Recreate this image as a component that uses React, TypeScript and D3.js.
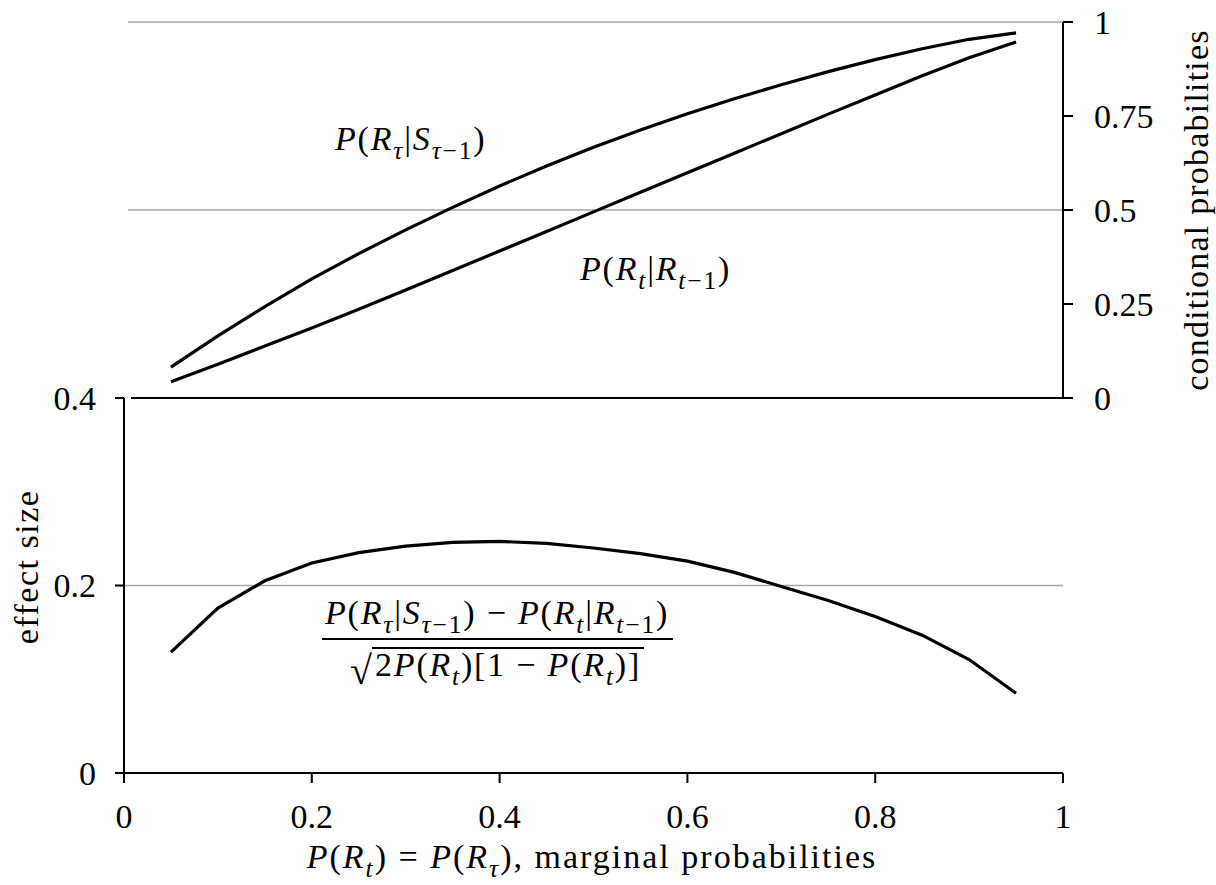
import React from 'react'
import * as d3 from 'd3'

// marginal probability P(R_t) = P(R_tau)
const marginal = [0.05, 0.1, 0.15, 0.2, 0.25, 0.3, 0.35, 0.4, 0.45, 0.5, 0.55, 0.6, 0.65, 0.7, 0.75, 0.8, 0.85, 0.9, 0.95]

// P(R_tau | S_tau-1)
const condSurvive = [0.082, 0.165, 0.243, 0.317, 0.384, 0.447, 0.507, 0.564, 0.617, 0.667, 0.713, 0.756, 0.796, 0.833, 0.868, 0.9, 0.929, 0.954, 0.971]

// P(R_t | R_t-1)
const condRecur = [0.043, 0.09, 0.138, 0.186, 0.236, 0.287, 0.339, 0.391, 0.443, 0.495, 0.547, 0.599, 0.651, 0.703, 0.755, 0.806, 0.857, 0.905, 0.947]

// effect size
const effectSize = [0.129, 0.176, 0.205, 0.224, 0.235, 0.242, 0.246, 0.247, 0.245, 0.24, 0.234, 0.226, 0.214, 0.199, 0.184, 0.167, 0.147, 0.121, 0.085]

const condTicks = [0, 0.25, 0.5, 0.75, 1]
const condTickLabels = ['0', '0.25', '0.5', '0.75', '1']
const condGrid = [0.5, 1]

const effectTicks = [0, 0.2, 0.4]
const effectTickLabels = ['0', '0.2', '0.4']
const effectGrid = [0.2]

const margTicks = [0, 0.2, 0.4, 0.6, 0.8, 1]
const margTickLabels = ['0', '0.2', '0.4', '0.6', '0.8', '1']

const FONT = '"Liberation Serif", "Times New Roman", serif'
const GRID = '#a6a6a6'

// a small piece of math: italic letters, upright digits and signs, subscripts
type Part = { t: string, i?: boolean, s?: boolean }

function mathSpans (parts: Part[], size: number) {
  let shift = 0
  const spans = parts.map((p, k) => {
    const target = p.s ? size * 0.26 : 0
    const dy = target - shift
    shift = target
    return (
      <tspan key={k} dy={dy} fontStyle={p.i ? 'italic' : 'normal'} fontSize={p.s ? size * 0.75 : size}>{p.t}</tspan>
    )
  })
  return { spans, shift }
}

function MathText ({ x, y, parts, size, anchor }: { x: number, y: number, parts: Part[], size: number, anchor?: string }) {
  const { spans } = mathSpans(parts, size)
  return (
    <text x={x} y={y} fontFamily={FONT} fontSize={size} letterSpacing={1.8} textAnchor={anchor || 'start'} fill="#000" style={{ whiteSpace: 'pre' }}>
      {spans}
    </text>
  )
}

const survivePart: Part[] = [
  { t: 'P', i: true }, { t: '(' }, { t: 'R', i: true }, { t: 'τ', i: true, s: true },
  { t: '|' }, { t: 'S', i: true }, { t: 'τ', i: true, s: true }, { t: '−1', s: true }, { t: ')' }
]
const recurPart: Part[] = [
  { t: 'P', i: true }, { t: '(' }, { t: 'R', i: true }, { t: 't', i: true, s: true },
  { t: '|' }, { t: 'R', i: true }, { t: 't', i: true, s: true }, { t: '−1', s: true }, { t: ')' }
]
const margPart = (sub: string): Part[] => [
  { t: 'P', i: true }, { t: '(' }, { t: 'R', i: true }, { t: sub, i: true, s: true }, { t: ')' }
]

export default function App () {
  const width = 1216
  const height = 885

  const x = d3.scaleLinear().domain([0, 1]).range([124, 1063])
  const yTop = d3.scaleLinear().domain([0, 1]).range([398, 22])
  const yBot = d3.scaleLinear().domain([0, 0.4]).range([773, 398])

  const topLine = d3.line<number>()
    .x((d, i) => x(marginal[i]))
    .y((d) => yTop(d))

  const botLine = d3.line<number>()
    .x((d, i) => x(marginal[i]))
    .y((d) => yBot(d))

  const tickFont = 34
  const titleFont = 34
  const mathFont = 34

  // x axis title: math followed by plain words, in one text run
  const titleMath = mathSpans([...margPart('t'), { t: ' = ' }, ...margPart('τ'), { t: ',' }], mathFont)

  return (
    <svg width={width} height={height} style={{ position: 'absolute', left: 0, top: 0, background: '#fff' }} fontFamily={FONT}>
      {/* top panel: conditional probabilities */}
      {condGrid.map((g) => (
        <line key={'cg' + g} x1={128} x2={x(1)} y1={yTop(g)} y2={yTop(g)} stroke={GRID} strokeWidth={1.3} />
      ))}
      <line x1={131} x2={x(1)} y1={yTop(0)} y2={yTop(0)} stroke="#000" strokeWidth={2} />
      <line x1={x(1)} x2={x(1)} y1={yTop(1)} y2={yTop(0)} stroke="#000" strokeWidth={2} />
      {condTicks.map((t, i) => (
        <g key={'ct' + t}>
          <line x1={x(1)} x2={x(1) + 10} y1={yTop(t)} y2={yTop(t)} stroke="#000" strokeWidth={2} />
          <text x={x(1) + 31} y={yTop(t)} dy="0.34em" fontSize={tickFont}>{condTickLabels[i]}</text>
        </g>
      ))}
      <text transform={`translate(1198, ${yTop(0.5)}) rotate(-90)`} textAnchor="middle" dy="0.3em" fontSize={titleFont} letterSpacing={1.2}>conditional probabilities</text>

      <path d={topLine(condSurvive) || ''} fill="none" stroke="#000" strokeWidth={3.2} />
      <path d={topLine(condRecur) || ''} fill="none" stroke="#000" strokeWidth={3.2} />

      <MathText x={335} y={150} parts={survivePart} size={mathFont} />
      <MathText x={580} y={280} parts={recurPart} size={mathFont} />

      {/* bottom panel: effect size */}
      {effectGrid.map((g) => (
        <line key={'eg' + g} x1={x(0)} x2={x(1)} y1={yBot(g)} y2={yBot(g)} stroke={GRID} strokeWidth={1.3} />
      ))}
      <line x1={x(0)} x2={x(0)} y1={yBot(0.4)} y2={yBot(0)} stroke="#000" strokeWidth={2} />
      <line x1={x(0)} x2={x(1)} y1={yBot(0)} y2={yBot(0)} stroke="#000" strokeWidth={2} />
      {effectTicks.map((t, i) => (
        <g key={'et' + t}>
          <line x1={x(0) - 9} x2={x(0)} y1={yBot(t)} y2={yBot(t)} stroke="#000" strokeWidth={2} />
          <text x={x(0) - 28} y={yBot(t)} dy="0.34em" textAnchor="end" fontSize={tickFont}>{effectTickLabels[i]}</text>
        </g>
      ))}
      {margTicks.map((t, i) => (
        <g key={'mt' + t}>
          <line x1={x(t)} x2={x(t)} y1={yBot(0)} y2={yBot(0) + 10} stroke="#000" strokeWidth={2} />
          <text x={x(t)} y={yBot(0) + 55} textAnchor="middle" fontSize={tickFont}>{margTickLabels[i]}</text>
        </g>
      ))}
      <text transform={`translate(28, 567) rotate(-90)`} textAnchor="middle" dy="0.3em" fontSize={titleFont} letterSpacing={1.5}>effect size</text>

      <path d={botLine(effectSize) || ''} fill="none" stroke="#000" strokeWidth={3.2} />

      {/* effect size formula */}
      <MathText x={497} y={624} anchor="middle" size={mathFont}
        parts={[...survivePart, { t: ' − ' }, ...recurPart]} />
      <line x1={322} x2={673} y1={639} y2={639} stroke="#000" strokeWidth={2} />
      <MathText x={508} y={676} anchor="middle" size={mathFont}
        parts={[{ t: '2' }, ...margPart('t'), { t: '[1 − ' }, ...margPart('t'), { t: ']' }]} />
      <text x={350} y={684} fontSize={40}>√</text>
      <line x1={372} x2={644} y1={648} y2={648} stroke="#000" strokeWidth={1.8} />

      {/* x axis title */}
      <text x={592} y={868} textAnchor="middle" fill="#000" fontSize={titleFont} letterSpacing={2} style={{ whiteSpace: 'pre' }}>
        {titleMath.spans}
        <tspan dy={-titleMath.shift} fontSize={titleFont}> marginal probabilities</tspan>
      </text>
    </svg>
  )
}
